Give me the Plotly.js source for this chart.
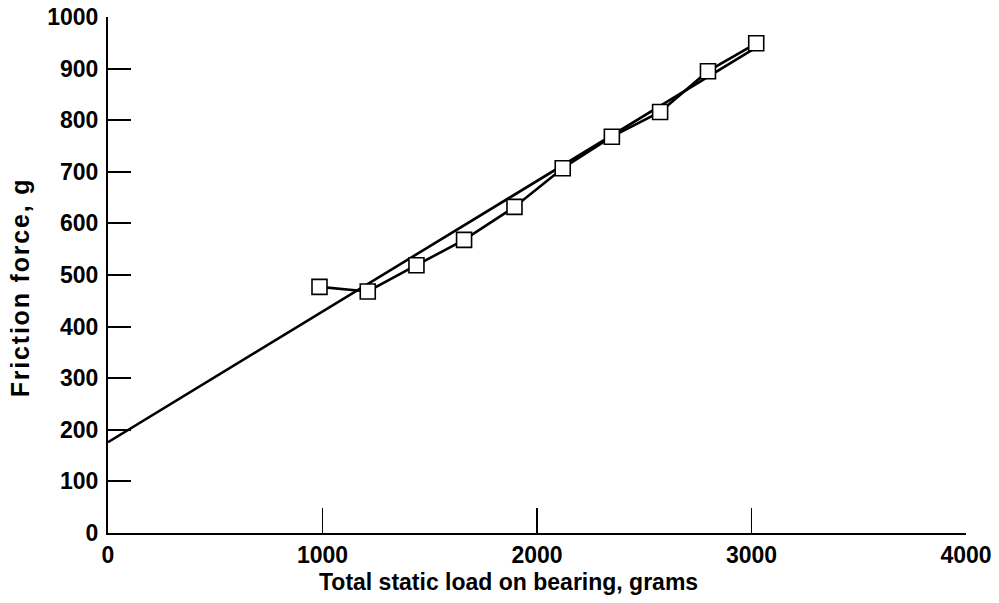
<!DOCTYPE html>
<html>
<head>
<meta charset="utf-8">
<script src="https://cdn.plot.ly/plotly-3.0.1.min.js"></script>
<style>html,body{margin:0;padding:0;background:#fff;}#chart{width:999px;height:603px;}</style>
</head>
<body>
<div id="chart"></div>
<script>
// Measured data (total static load, g -> friction force, g)
var loadGrams = [986, 1211, 1438, 1660, 1895, 2120, 2349, 2574, 2797, 3022];
var frictionGrams = [477, 468, 519, 568, 632, 707, 768, 816, 895, 949];
// Straight-line fit endpoints
var fitLoad = [0, 3030];
var fitFriction = [176, 943];
// Axis ticks
var xTicks = [0, 1000, 2000, 3000, 4000];
var yTicks = [0, 100, 200, 300, 400, 500, 600, 700, 800, 900, 1000];
var xTitle = "Total static load on bearing, grams";
var yTitle = "Friction force, g";

var font = "Liberation Sans, Arial, Helvetica, sans-serif";
var tf = {family: font, size: 23, color: "#000", weight: "bold"};
var yf = {family: font, size: 25, color: "#000", weight: "bold"};

var traces = [
  {x: fitLoad, y: fitFriction, mode: "lines", line: {color: "#000", width: 2.6}, hoverinfo: "skip", cliponaxis: false},
  {x: loadGrams, y: frictionGrams, mode: "lines+markers",
   line: {color: "#000", width: 2.6},
   marker: {symbol: "square", size: 15, color: "#fff", line: {color: "#000", width: 1.6}},
   cliponaxis: false}
];

var layout = {
  width: 999, height: 603,
  margin: {l: 108, r: 33, t: 17, b: 70},
  paper_bgcolor: "#fff", plot_bgcolor: "#fff",
  showlegend: false,
  font: tf,
  xaxis: {range: [0, 4000], tickvals: xTicks, ticktext: xTicks.map(String),
          ticks: "inside", ticklen: 25, tickwidth: 1.5, tickcolor: "#000",
          showline: true, linewidth: 2, linecolor: "#000", showgrid: false, zeroline: false,
          tickfont: tf},
  yaxis: {range: [0, 1000], tickvals: yTicks, ticktext: yTicks.map(String),
          ticks: "inside", ticklen: 23, tickwidth: 2, tickcolor: "#000",
          showline: true, linewidth: 2, linecolor: "#000", showgrid: false, zeroline: false,
          ticklabelstandoff: 3,
          tickfont: tf},
  annotations: [
    {text: xTitle, xref: "paper", yref: "paper", x: (508-108)/858, y: -(582-533)/516,
     xanchor: "center", yanchor: "middle", showarrow: false, font: tf},
    {text: yTitle, xref: "paper", yref: "paper", x: -(108-20)/858, y: (533-288)/516,
     xanchor: "center", yanchor: "middle", textangle: -90, showarrow: false, font: yf}
  ]
};

var gd = document.getElementById("chart");
Plotly.newPlot(gd, traces, layout, {staticPlot: true, displayModeBar: false}).then(function () {
  var t = gd.querySelectorAll(".annotation-text");
  if (t.length > 1) { t[1].style.letterSpacing = "1.8px"; }
});
</script>
</body>
</html>
